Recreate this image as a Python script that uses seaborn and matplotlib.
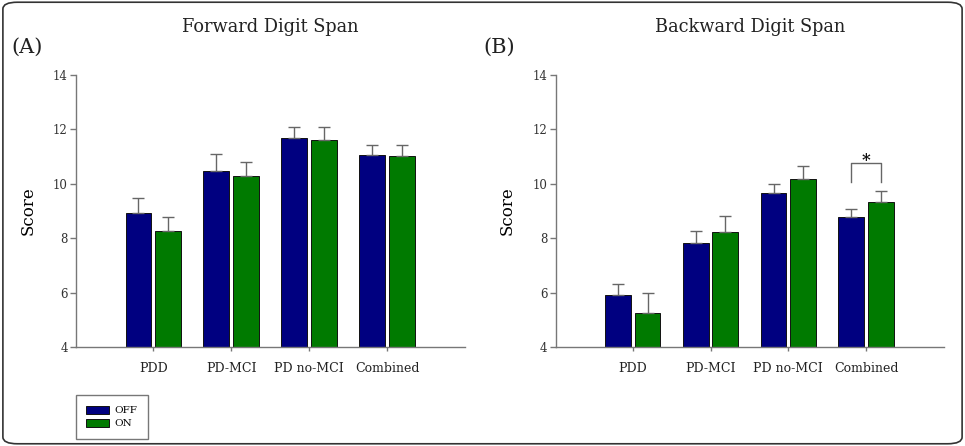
import pandas as pd
import numpy as np
import seaborn as sns
import matplotlib.pyplot as plt
from matplotlib.patches import Patch, FancyBboxPatch

groups = ['PDD', 'PD-MCI', 'PD no-MCI', 'Combined']
conditions = ['OFF', 'ON']

forward_off = [8.94, 10.48, 11.69, 11.04]
forward_on = [8.25, 10.27, 11.59, 11.02]
forward_off_err = [0.54, 0.62, 0.41, 0.39]
forward_on_err = [0.51, 0.53, 0.49, 0.39]

backward_off = [5.92, 7.83, 9.65, 8.76]
backward_on = [5.26, 8.24, 10.17, 9.34]
backward_off_err = [0.38, 0.44, 0.35, 0.31]
backward_on_err = [0.71, 0.59, 0.50, 0.41]

colores = {'OFF': '#000080', 'ON': '#007a00'}


def armar_df(off, on):
    return pd.DataFrame({
        'grupo': groups * 2,
        'condicion': ['OFF'] * len(groups) + ['ON'] * len(groups),
        'score': list(off) + list(on),
    })


def panel(ax, off, on, off_err, on_err, titulo):
    df = armar_df(off, on)
    sns.barplot(data=df, x='grupo', y='score', hue='condicion', order=groups,
                hue_order=conditions, palette=colores, saturation=1,
                width=0.76, gap=0.13, edgecolor='#111111', linewidth=0.7,
                errorbar=None, legend=False, ax=ax)

    # barras de erro só para cima, cinza
    for cont, err in zip(ax.containers, [off_err, on_err]):
        xs = [p.get_x() + p.get_width() / 2 for p in cont.patches]
        ys = [p.get_height() for p in cont.patches]
        ax.errorbar(xs, ys, yerr=[np.zeros(len(err)), err], fmt='none',
                    ecolor='#666666', elinewidth=1.0, capsize=4.5,
                    capthick=1.0, zorder=1)

    ax.set_ylim(4, 14)
    ax.set_xlim(-0.99, 4.0)
    ax.set_yticks([4, 6, 8, 10, 12, 14])
    ax.set_xlabel('')
    ax.set_ylabel('Score', fontsize=12, labelpad=12)
    ax.set_facecolor('white')

    for s in ['top', 'right']:
        ax.spines[s].set_visible(False)
    for s in ['left', 'bottom']:
        ax.spines[s].set_color('#777777')
        ax.spines[s].set_linewidth(1)
    ax.tick_params(axis='y', length=4, width=1, color='#777777',
                   labelsize=8.5, labelcolor='#333333', pad=2)
    ax.tick_params(axis='x', length=3, width=1, color='#777777',
                   labelsize=9, labelcolor='#222222', pad=8)

    ax.set_title(titulo, fontsize=12.8, pad=31, color='#222222')
    return ax


plt.rcParams['font.family'] = ['DejaVu Serif']

fig = plt.figure(figsize=(9.65, 4.46), dpi=100)
ax1 = fig.add_axes([0.0788, 0.222, 0.403, 0.610])
ax2 = fig.add_axes([0.576, 0.222, 0.402, 0.610])

panel(ax1, forward_off, forward_on, forward_off_err, forward_on_err,
      'Forward Digit Span')
panel(ax2, backward_off, backward_on, backward_off_err, backward_on_err,
      'Backward Digit Span')

fig.text(0.012, 0.895, '(A)', fontsize=15, color='#222222', va='center')
fig.text(0.501, 0.893, '(B)', fontsize=15, color='#222222', va='center')

# colchete de significância em Combined (backward)
c_off, c_on = ax2.containers[0].patches[3], ax2.containers[1].patches[3]
x0 = c_off.get_x() + c_off.get_width() / 2
x1 = c_on.get_x() + c_on.get_width() / 2
ax2.plot([x0, x0, x1, x1], [10.06, 10.77, 10.77, 10.06], color='#666666', lw=1)
ax2.text((x0 + x1) / 2, 10.55, '*', ha='center', va='bottom',
         fontsize=12, fontweight='bold', color='#111111')

handles = [Patch(facecolor=colores[c], edgecolor='#111111', linewidth=0.7, label=c)
           for c in conditions]
fig.legend(handles=handles, loc='upper left', bbox_to_anchor=(0.0788, 0.114),
           borderaxespad=0, frameon=True, fancybox=False, edgecolor='#555555',
           fontsize=7.5, handlelength=2.2, handleheight=0.8, borderpad=1.0,
           labelspacing=0.35, handletextpad=0.5)

fig.patches.append(FancyBboxPatch((0.003, 0.005), 0.994, 0.99,
                                  boxstyle='round,pad=0,rounding_size=0.015',
                                  transform=fig.transFigure, fill=False,
                                  edgecolor='#333333', linewidth=1.2))

fig.savefig('out.png', dpi=100, facecolor='white')
